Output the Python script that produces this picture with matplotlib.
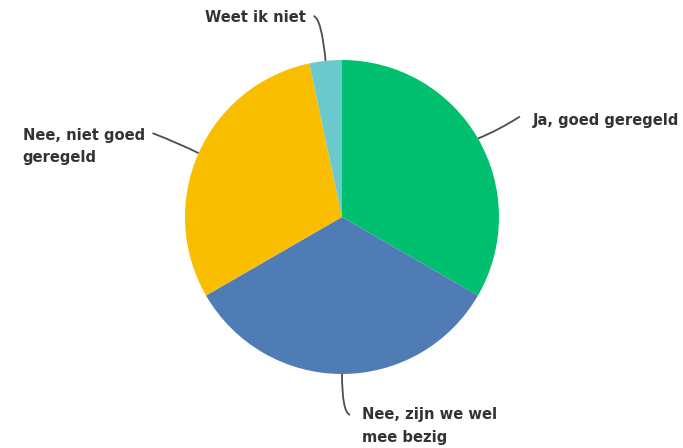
import numpy as np
import matplotlib
matplotlib.use("Agg")
import matplotlib.pyplot as plt
from matplotlib.path import Path
from matplotlib.patches import PathPatch

# Survey answers (counts), drawn clockwise from 12 o'clock
labels = ["Ja, goed geregeld", "Nee, zijn we wel\nmee bezig",
          "Nee, niet goed\ngeregeld", "Weet ik niet"]
counts = [10, 10, 9, 1]
colors = ["#00BF6F", "#507CB6", "#F9BE00", "#6BC8CD"]

W, H = 683, 448
CX, CY, R = 342, 217, 157  # pie centre and radius in pixels

fig = plt.figure(figsize=(W / 100, H / 100), dpi=100)
ax = fig.add_axes([0, 0, 1, 1])

wedges, _ = ax.pie(counts, colors=colors, startangle=90, counterclock=False,
                   radius=1, center=(0, 0),
                   wedgeprops=dict(linewidth=0))
ax.set_xlim(-CX / R, (W - CX) / R)
ax.set_ylim(-(H - CY) / R, CY / R)
ax.set_aspect("equal")
ax.axis("off")


def px(x, y):
    """pixel offsets (y down) -> data units"""
    return x / R, -y / R


# leader geometry per slice: (control offset, end offset) in pixels from the
# wedge edge, then text offset and alignment
leaders = [
    ((20, -8), (42, -22), (55, -18), "left"),
    ((0, 38), (8, 41), (20, 52), "left"),
    ((-20, -10), (-46, -20), (-176, -7), "left"),
    ((-4, -42), (-12, -45), (-20, -43), "right"),
]

for w, lab, (c, e, t, ha) in zip(wedges, labels, leaders):
    ang = np.deg2rad((w.theta1 + w.theta2) / 2)
    x0, y0 = np.cos(ang), np.sin(ang)
    cx, cy = px(*c)
    ex, ey = px(*e)
    path = Path([(x0, y0), (x0 + cx, y0 + cy), (x0 + ex, y0 + ey)],
                [Path.MOVETO, Path.CURVE3, Path.CURVE3])
    ax.add_patch(PathPatch(path, facecolor="none", edgecolor="#4d4d4d", lw=1.3))
    tx, ty = px(*t)
    ax.text(x0 + tx, y0 + ty, lab, ha=ha, va="center", fontsize=10.6,
            fontweight="bold", color="#333333", linespacing=1.6,
            family="DejaVu Sans")

fig.savefig("out.png", dpi=100, facecolor="white")
